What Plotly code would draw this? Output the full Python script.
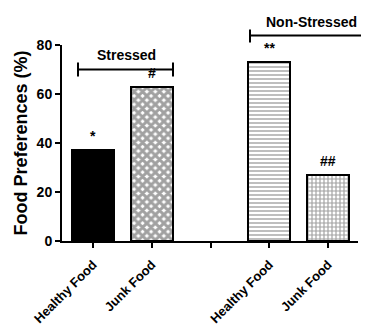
import plotly.graph_objects as go

positions = [0, 1, 3, 4]
values = [37, 63, 73, 27]
tick_positions = [0, 1, 2, 3, 4]
tick_labels = ["Healthy Food", "Junk Food", "", "Healthy Food", "Junk Food"]
sig_labels = ["*", "#", "**", "##"]
fill_colors = ["black", "white", "white", "white"]
pattern_shapes = ["", "x", "-", "+"]

FONT = "Liberation Sans, Arial, sans-serif"

# the page body adds an 8px offset; figure is sized to compensate
OFF = 8
W, H = 369 - OFF, 329 - OFF
PL, PR, PT, PB = 62 - OFF, 358 - OFF, 44.5 - OFF, 241 - OFF  # plot area in figure px

fig = go.Figure()
fig.add_trace(go.Bar(
    x=positions, y=values, width=0.72,
    marker=dict(
        color=fill_colors,
        line=dict(color="black", width=2),
        pattern=dict(shape=pattern_shapes, fgcolor="black", bgcolor=fill_colors,
                     size=[6, 6, 4, 4], solidity=[0.5, 0.75, 0.35, 0.5]),
    ),
    showlegend=False, hoverinfo="skip",
))

for xp, v, s in zip(positions, values, sig_labels):
    fig.add_annotation(x=xp, y=v, text="<b>%s</b>" % s, showarrow=False,
                       yanchor="bottom", yshift=4,
                       font=dict(family=FONT, size=14, color="black"))


def px_x(px):  # window px -> paper
    return (px - OFF - PL) / (PR - PL)


def px_y(py):
    return (PB - (py - OFF)) / (PB - PT)


line = dict(color="black", width=2)
# Stressed bracket
fig.add_shape(type="line", xref="paper", yref="paper",
              x0=px_x(78), x1=px_x(173), y0=px_y(69), y1=px_y(69), line=line)
for xx in (78, 173):
    fig.add_shape(type="line", xref="paper", yref="paper",
                  x0=px_x(xx), x1=px_x(xx), y0=px_y(62), y1=px_y(76), line=line)
fig.add_annotation(xref="paper", yref="paper", x=px_x(126), y=px_y(55),
                   yanchor="middle", xanchor="center",
                   text="<b>Stressed</b>", showarrow=False,
                   font=dict(family=FONT, size=14, color="black"))
# Non-Stressed bracket
fig.add_shape(type="line", xref="paper", yref="paper",
              x0=px_x(250), x1=px_x(375), y0=px_y(35), y1=px_y(35), line=line)
fig.add_shape(type="line", xref="paper", yref="paper",
              x0=px_x(250), x1=px_x(250), y0=px_y(29), y1=px_y(42), line=line)
fig.add_annotation(xref="paper", yref="paper", x=px_x(311), y=px_y(21),
                   yanchor="middle", xanchor="center",
                   text="<b>Non-Stressed</b>", showarrow=False,
                   font=dict(family=FONT, size=14, color="black"))

fig.update_layout(
    width=W, height=H,
    margin=dict(l=PL, r=W - PR, t=PT, b=H - PB, pad=0, autoexpand=False),
    paper_bgcolor="white", plot_bgcolor="white",
    font=dict(family=FONT, color="black"),
    bargap=0,
)
fig.update_xaxes(
    range=[-0.53, 4.51], tickmode="array", tickvals=tick_positions,
    ticktext=["<b>%s</b>" % t if t else "" for t in tick_labels],
    tickangle=-45, ticks="outside", ticklen=5, tickwidth=1.5, tickcolor="black",
    showline=True, linecolor="black", linewidth=2, showgrid=False, zeroline=False,
    tickfont=dict(family=FONT, size=13, color="black"), ticklabelstandoff=4,
    automargin=False,
)
fig.update_yaxes(
    range=[0, 80], tickmode="array", tickvals=[0, 20, 40, 60, 80],
    ticktext=["<b>%d</b>" % v for v in [0, 20, 40, 60, 80]],
    ticks="outside", ticklen=5, tickwidth=1.5, tickcolor="black",
    showline=True, linecolor="black", linewidth=2, showgrid=False, zeroline=False,
    tickfont=dict(family=FONT, size=14, color="black"),
    title=dict(text="<b>Food Preferences (%)</b>", font=dict(family=FONT, size=18, color="black"),
               standoff=4),
    automargin=False,
)
fig.write_html("out.html")
